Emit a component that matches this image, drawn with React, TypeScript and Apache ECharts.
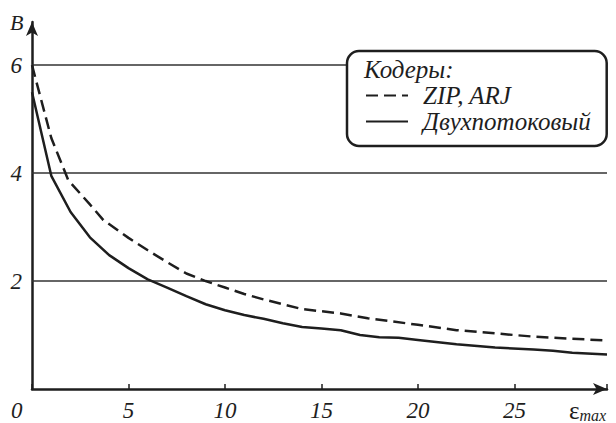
import React, { useEffect, useRef } from "react";
import * as echarts from "echarts";

const zipX = [0, 1, 1.88, 3, 3.7, 5, 6, 7, 8, 9, 10, 11, 12, 14, 16, 17.4, 20, 22, 24, 26, 28, 29.8];
const zipY = [6, 4.65, 3.87, 3.42, 3.13, 2.8, 2.57, 2.35, 2.14, 2.0, 1.88, 1.76, 1.66, 1.48, 1.4, 1.31, 1.19, 1.09, 1.03, 0.97, 0.93, 0.9];
const twoX = [0, 1, 2, 3, 4, 5, 6, 7, 8, 9, 10, 11, 12, 13, 14, 15, 16, 17, 18, 19, 20, 22, 24, 26, 27, 28, 29.8];
const twoY = [5.5, 3.95, 3.28, 2.81, 2.48, 2.24, 2.03, 1.88, 1.72, 1.57, 1.46, 1.37, 1.3, 1.22, 1.15, 1.12, 1.09, 1.0, 0.96, 0.95, 0.91, 0.83, 0.77, 0.73, 0.71, 0.67, 0.64];
const xTickLabels = [5, 10, 15, 20, 25];
const yTickLabels = [2, 4, 6];
const seriesNames = ["ZIP, ARJ", "Двухпотоковый"];
const legendTitle = "Кодеры:";

const FONT = "Liberation Serif";
const INK = "#1e1e1e";

export default function App() {
  const ref = useRef<HTMLDivElement>(null);
  useEffect(() => {
    if (!ref.current) return;
    const chart = echarts.init(ref.current, null, { renderer: "svg" });
    const zipData = zipX.map((x, i) => [x, zipY[i]]);
    const twoData = twoX.map((x, i) => [x, twoY[i]]);
    chart.setOption({
      animation: false,
      backgroundColor: "#fff",
      textStyle: { fontFamily: FONT },
      grid: { left: 32, top: 22, right: 9, bottom: 34, containLabel: false },
      xAxis: {
        type: "value",
        min: 0,
        max: 29.8,
        interval: 5,
        axisLine: {
          show: true,
          lineStyle: { color: INK, width: 2.5 },
          symbol: ["none", "arrow"],
          symbolSize: [9, 14],
        },
        axisTick: { show: true, inside: true, length: 5, lineStyle: { color: INK, width: 1.5 } },
        splitLine: { show: false },
        axisLabel: {
          margin: 10,
          fontFamily: FONT,
          fontStyle: "italic",
          fontSize: 23,
          color: INK,
          formatter: (v: number) => (xTickLabels.includes(v) ? String(v) : ""),
        },
      },
      yAxis: {
        type: "value",
        min: 0,
        max: 6.8,
        interval: 2,
        axisLine: {
          show: true,
          lineStyle: { color: INK, width: 2.5 },
          symbol: ["none", "arrow"],
          symbolSize: [9, 14],
        },
        axisTick: { show: false },
        splitLine: { show: false },
        axisLabel: {
          margin: 10,
          fontFamily: FONT,
          fontStyle: "italic",
          fontSize: 23,
          color: INK,
          formatter: (v: number) => (yTickLabels.includes(v) ? String(v) : ""),
        },
      },
      legend: {
        orient: "vertical",
        left: 347,
        top: 51,
        padding: [32, 16, 12, 18],
        itemGap: 1,
        itemWidth: 42,
        itemHeight: 22,
        backgroundColor: "#fff",
        borderColor: INK,
        borderWidth: 2.5,
        borderRadius: 12,
        z: 10,
        itemStyle: { opacity: 0 },
        textStyle: {
          fontFamily: FONT,
          fontStyle: "italic",
          fontSize: 25,
          lineHeight: 22,
          color: INK,
          padding: [0, 0, 0, 10],
        },
        data: seriesNames,
      },
      graphic: [
        {
          type: "text",
          left: 364,
          top: 57,
          z: 20,
          style: { text: legendTitle, fontFamily: FONT, fontStyle: "italic", fontSize: 25, fill: INK },
        },
        {
          type: "text",
          left: 10,
          top: 11,
          style: { text: "B", fontFamily: FONT, fontStyle: "italic", fontSize: 22, fill: INK },
        },
        {
          type: "text",
          left: 11,
          top: 399,
          style: { text: "0", fontFamily: FONT, fontStyle: "italic", fontSize: 23, fill: INK },
        },
        {
          type: "text",
          left: 569,
          top: 398,
          style: {
            text: "{e|ε}{m|max}",
            rich: {
              e: { fontFamily: FONT, fontSize: 25, fill: INK },
              m: { fontFamily: FONT, fontStyle: "italic", fontSize: 16, fill: INK, padding: [10, 0, 0, 0] },
            },
          },
        },
      ],
      series: [
        {
          name: seriesNames[0],
          type: "line",
          data: zipData,
          symbol: "none",
          smooth: false,
          lineStyle: { color: INK, width: 2.5, type: [12, 6] },
          itemStyle: { color: INK },
          z: 3,
        },
        {
          name: seriesNames[1],
          type: "line",
          data: twoData,
          symbol: "none",
          smooth: false,
          lineStyle: { color: INK, width: 2.5, type: "solid" },
          itemStyle: { color: INK },
          z: 3,
          markLine: {
            silent: true,
            symbol: ["none", "none"],
            label: { show: false },
            lineStyle: { color: "#333", width: 1.5, type: "solid" },
            data: yTickLabels.map((v) => ({ yAxis: v })),
            z: 1,
          },
        },
      ],
    });
    return () => chart.dispose();
  }, []);
  return <div ref={ref} style={{ width: 616, height: 423, position: "absolute", left: 0, top: 0 }} />;
}
